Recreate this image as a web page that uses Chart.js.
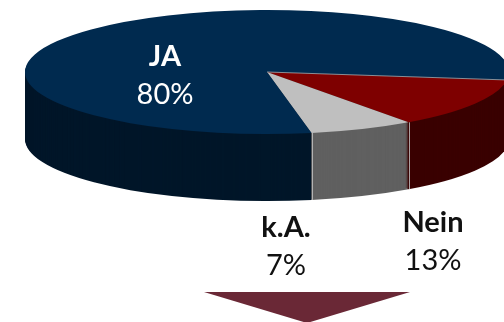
<!DOCTYPE html>
<html lang="de">
<head>
<meta charset="utf-8">
<title>Umfrage</title>
<script src="https://cdn.jsdelivr.net/npm/chart.js@4.4.1/dist/chart.umd.min.js"></script>
<style>
  html, body { margin: 0; padding: 0; background: #fff; }
  #wrap { position: relative; width: 504px; height: 322px; overflow: hidden; }
</style>
</head>
<body>
<div id="wrap"><canvas id="pie"></canvas></div>
<script>
// answers, in drawing order (clockwise from the right edge)
const labels = ["Nein", "k.A.", "JA"];
const values = [13, 7, 80];

// colours: top face / side wall
const topColors  = ["#7e0000", "#bfbfbf", "#002a4f"];
const sideColors = ["#3a0000", "#606060", "#001629"];

// ellipse geometry of the tilted pie
const TILT = { cx: 267, cy: 72, rx: 242, ry: 62, depth: 67 };
const ROTATION = 97.4;

// label placement (name + percentage), screen px
const LABEL_POS = [
  { x: 433, y: 232, color: "#111" },
  { x: 286, y: 237, color: "#111" },
  { x: 165, y: 66,  color: "#fff" }
];
const FONT = "Lato, 'Open Sans', 'Noto Sans', sans-serif";

function tiltTransform(ctx, arc){
  const sx = TILT.rx / arc.outerRadius;
  const sy = TILT.ry / arc.outerRadius;
  ctx.translate(TILT.cx, TILT.cy);
  ctx.scale(sx, sy);
  ctx.translate(-arc.x, -arc.y);
  return sy;
}

// point on the top ellipse rim for a slice angle
function rim(t){
  return [TILT.cx + TILT.rx * Math.cos(t), TILT.cy + TILT.ry * Math.sin(t)];
}

const tilt3d = {
  id: "tilt3d",
  beforeDatasetsDraw(chart){
    const ctx = chart.ctx;
    const arcs = chart.getDatasetMeta(0).data;
    if (!arcs.length) return;
    ctx.save();
    const sy = tiltTransform(ctx, arcs[0]);
    // side wall: stack the slices downwards, deepest first
    for (let d = TILT.depth; d >= 1; d--){
      arcs.forEach((a, i) => {
        ctx.beginPath();
        ctx.moveTo(a.x, a.y + d / sy);
        ctx.arc(a.x, a.y + d / sy, a.outerRadius, a.startAngle, a.endAngle);
        ctx.closePath();
        ctx.fillStyle = sideColors[i];
        ctx.fill();
      });
    }
    ctx.restore();
    // light edges where the slices meet on the wall
    ctx.save();
    ctx.strokeStyle = "rgba(200,200,200,0.8)";
    ctx.lineWidth = 1;
    arcs.forEach(a => {
      if (Math.sin(a.startAngle) <= 0) return;
      const [px, py] = rim(a.startAngle);
      ctx.beginPath();
      ctx.moveTo(Math.round(px) + 0.5, py);
      ctx.lineTo(Math.round(px) + 0.5, py + TILT.depth);
      ctx.stroke();
    });
    ctx.restore();
    // top face is drawn by the controller inside this transform
    ctx.save();
    tiltTransform(ctx, arcs[0]);
  },
  afterDatasetsDraw(chart){
    const ctx = chart.ctx;
    ctx.restore();
    // thin seam between JA and Nein on the top face
    const a = chart.getDatasetMeta(0).data[0];
    const [px, py] = rim(a.startAngle);
    ctx.save();
    ctx.strokeStyle = "rgba(190,190,190,0.7)";
    ctx.lineWidth = 1;
    ctx.beginPath();
    ctx.moveTo(TILT.cx, TILT.cy);
    ctx.lineTo(px, py);
    ctx.stroke();
    ctx.restore();
  },
  afterDraw(chart){
    const ctx = chart.ctx;
    ctx.save();
    ctx.textAlign = "center";
    ctx.textBaseline = "alphabetic";
    labels.forEach((name, i) => {
      const p = LABEL_POS[i];
      ctx.fillStyle = p.color;
      ctx.font = "bold 29px " + FONT;
      ctx.fillText(name, p.x, p.y);
      ctx.font = "29px " + FONT;
      ctx.fillText(values[i] + "%", p.x, p.y + 38);
    });
    // arrow below the chart
    ctx.fillStyle = "#6a2836";
    ctx.beginPath();
    ctx.moveTo(204, 292);
    ctx.lineTo(410, 292);
    ctx.lineTo(307, 323);
    ctx.closePath();
    ctx.fill();
    ctx.restore();
  }
};

new Chart(document.getElementById("pie"), {
  type: "pie",
  data: {
    labels,
    datasets: [{
      data: values,
      backgroundColor: topColors,
      borderWidth: 0,
      clip: false
    }]
  },
  options: {
    responsive: true,
    maintainAspectRatio: false,
    animation: false,
    events: [],
    rotation: ROTATION,
    plugins: { legend: { display: false }, tooltip: { enabled: false } }
  },
  plugins: [tilt3d]
});
</script>
</body>
</html>
